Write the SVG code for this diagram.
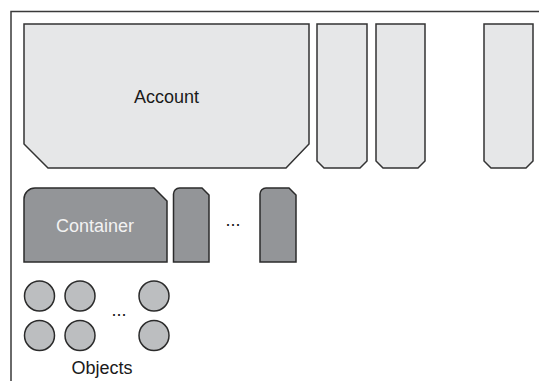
<svg xmlns="http://www.w3.org/2000/svg" width="539" height="381" viewBox="0 0 539 381">
  <style>
    .frame { fill: none; stroke: #3a3a3a; stroke-width: 1.5; }
    .acct { fill: #e6e7e8; stroke: #333333; stroke-width: 1.5; stroke-linejoin: miter; }
    .cont { fill: #939598; stroke: #2b2b2b; stroke-width: 1.5; }
    .obj { fill: #bcbec0; stroke: #2b2b2b; stroke-width: 1.5; }
    .lbl { font-family: "Liberation Sans", Arial, sans-serif; font-size: 18px; text-anchor: middle; fill: #1a1a1a; }
    .lblw { font-family: "Liberation Sans", Arial, sans-serif; font-size: 18px; text-anchor: middle; fill: #f2f2f2; }
  </style>
  <rect width="539" height="381" fill="#ffffff"/>
  <path class="frame" d="M11,381 V11.5 H539"/>

  <g id="account">
    <polygon class="acct" points="24,24 309,24 309,144 286,168 48,168 24,144"/>
    <text class="lbl" x="166.5" y="103">Account</text>
  </g>
  <g id="account-col-1">
    <polygon class="acct" points="317,24 367,24 367,161 360,168 324,168 317,161"/>
  </g>
  <g id="account-col-2">
    <polygon class="acct" points="376,24 425,24 425,161 418,168 383,168 376,161"/>
  </g>
  <g id="account-col-3">
    <polygon class="acct" points="484,24 533,24 533,161 526,168 491,168 484,161"/>
  </g>

  <g id="container">
    <path class="cont" d="M24,262 V199 A11,11 0 0 1 35,188 H154 L167,201 V262 Z"/>
    <text class="lblw" x="95" y="232">Container</text>
  </g>
  <g id="container-2">
    <path class="cont" d="M173.5,262 V194 A6,6 0 0 1 179.5,188 H202 L209,195 V262 Z"/>
  </g>
  <g id="container-ellipsis">
    <text class="lbl" x="233" y="226">...</text>
  </g>
  <g id="container-3">
    <path class="cont" d="M260,262 V194 A6,6 0 0 1 266,188 H289 L296,195 V262 Z"/>
  </g>

  <g id="objects">
    <circle class="obj" cx="39.5" cy="296" r="15"/>
    <circle class="obj" cx="80" cy="296" r="15"/>
    <circle class="obj" cx="154" cy="296" r="15"/>
    <circle class="obj" cx="39.5" cy="335.5" r="15"/>
    <circle class="obj" cx="80" cy="335.5" r="15"/>
    <circle class="obj" cx="154" cy="335.5" r="15"/>
    <text class="lbl" x="119" y="316">...</text>
    <text class="lbl" x="102" y="374">Objects</text>
  </g>

  <g id="connectors"></g>
</svg>
